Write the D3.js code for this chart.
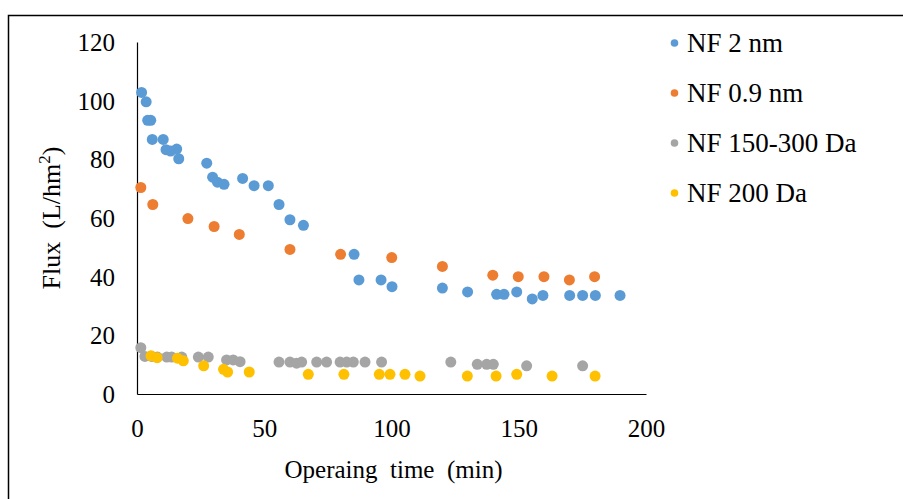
<!DOCTYPE html>
<html>
<head>
<meta charset="utf-8">
<script src="https://cdn.jsdelivr.net/npm/d3@7"></script>
<style>
  html, body { margin: 0; padding: 0; background: #fff; }
  svg text { font-family: 'Liberation Serif', 'Times New Roman', Tinos, 'DejaVu Serif', serif !important; }
</style>
</head>
<body>
<svg id="chart" width="903" height="499"></svg>
<script>
const seriesNames = ["NF 2 nm", "NF 0.9 nm", "NF 150-300 Da", "NF 200 Da"];
const seriesColors = ["#5B9BD5", "#ED7D31", "#A5A5A5", "#FFC000"];

const nf2nmTime = [1.8, 3.6, 4.2, 5.4, 6, 10.3, 11.4, 13.2, 15.6, 16.4, 27.4, 29.7, 31.6, 34.2, 41.5, 46, 51.6, 55.8, 60.1, 65.4, 85.3, 87.2, 95.9, 100.2, 120, 129.9, 141.3, 144.2, 149.2, 155.3, 159.5, 170, 175.1, 180.1, 189.8];
const nf2nmFlux = [102.8, 99.6, 93.3, 93.3, 86.8, 86.8, 83.3, 82.8, 83.5, 80.2, 78.7, 73.9, 72.2, 71.5, 73.5, 71, 71, 64.6, 59.4, 57.5, 47.6, 38.9, 38.9, 36.6, 36.1, 34.8, 34, 34, 34.8, 32.4, 33.6, 33.6, 33.6, 33.6, 33.6];

const nf09nmTime = [1.5, 6.2, 20, 30.3, 40.2, 60.1, 80, 100.1, 120, 139.8, 149.8, 159.9, 169.9, 179.8];
const nf09nmFlux = [70.4, 64.6, 59.8, 57.1, 54.4, 49.3, 47.6, 46.5, 43.5, 40.5, 40, 40, 38.9, 40];

const nf150Time = [1.5, 3.1, 5.8, 8, 11.7, 13.6, 17.6, 24.1, 28, 35.2, 37.8, 40.5, 55.8, 60.1, 62.7, 64.7, 70.6, 74.5, 79.8, 82.4, 85, 89.6, 96.1, 123.3, 133.7, 137.4, 140, 153.1, 175.1];
const nf150Flux = [15.8, 12.8, 12.8, 12.6, 12.6, 12.6, 12.6, 12.6, 12.6, 11.6, 11.6, 11, 10.9, 10.9, 10.5, 10.9, 10.9, 10.9, 10.9, 10.9, 10.9, 10.9, 10.9, 10.9, 10.1, 10.1, 10.1, 9.6, 9.6];

const nf200Time = [5.5, 7.9, 15.9, 18.2, 26.2, 34, 35.6, 44.1, 67.3, 81.3, 95.2, 99.4, 105.3, 111.2, 129.8, 141.1, 149.2, 163.1, 180];
const nf200Flux = [13, 12.4, 12.2, 11.3, 9.6, 8.4, 7.5, 7.5, 6.7, 6.7, 6.7, 6.7, 6.7, 6.1, 6.1, 6.1, 6.7, 6.1, 6.1];

const xTicks = [0, 50, 100, 150, 200];
const yTicks = [0, 20, 40, 60, 80, 100, 120];

const series = [
  { name: seriesNames[0], color: seriesColors[0], t: nf2nmTime, v: nf2nmFlux },
  { name: seriesNames[1], color: seriesColors[1], t: nf09nmTime, v: nf09nmFlux },
  { name: seriesNames[2], color: seriesColors[2], t: nf150Time, v: nf150Flux },
  { name: seriesNames[3], color: seriesColors[3], t: nf200Time, v: nf200Flux }
];

const svg = d3.select("#chart");
const W = 903, H = 499;
svg.append("rect").attr("width", W).attr("height", H).attr("fill", "#fff");

// outer border (top & left visible)
svg.append("path").attr("d", `M8.5,${H} L8.5,15.5 L${W},15.5`).attr("fill", "none").attr("stroke", "#000").attr("stroke-width", 1.5);

const x = d3.scaleLinear().domain([0, 200]).range([137, 646]);
const y = d3.scaleLinear().domain([0, 120]).range([394, 42]);

const fontSize = 25;
const legendFontSize = 27;

// axes
const xAxis = d3.axisBottom(x).tickValues(xTicks).tickSize(0).tickPadding(0).tickFormat(d3.format("d"));
const gx = svg.append("g").attr("transform", `translate(0,${y(0)})`).call(xAxis);
gx.attr("font-family", null).attr("font-size", null);
gx.select(".domain").attr("stroke", "#000").attr("stroke-width", 1.2);
gx.selectAll("text").attr("font-size", fontSize).attr("fill", "#000").attr("dy", null).attr("y", 43);

const yAxis = d3.axisLeft(y).tickValues(yTicks).tickSize(0).tickPadding(0).tickFormat(d3.format("d"));
const gy = svg.append("g").attr("transform", `translate(${x(0)},0)`).call(yAxis);
gy.attr("font-family", null).attr("font-size", null);
gy.select(".domain").attr("stroke", "#000").attr("stroke-width", 1.2);
gy.selectAll("text").attr("font-size", fontSize).attr("fill", "#000").attr("x", -22).attr("dy", "0.34em");

// axis titles
svg.append("text").attr("x", (x(0) + x(200)) / 2 + 2).attr("y", 478).attr("text-anchor", "middle")
  .attr("font-size", fontSize).attr("fill", "#000").attr("xml:space", "preserve").text("Operaing  time  (min)");

const yt = svg.append("text").attr("transform", `translate(60,${(y(0) + y(120)) / 2}) rotate(-90)`)
  .attr("text-anchor", "middle").attr("font-size", 26).attr("fill", "#000").attr("xml:space", "preserve");
yt.append("tspan").text("Flux  (L/hm");
yt.append("tspan").attr("font-size", 17).attr("dy", -10).text("2");
yt.append("tspan").attr("dy", 10).text(")");

// points
series.forEach(s => {
  svg.append("g").selectAll("circle")
    .data(s.t.map((t, i) => [t, s.v[i]]))
    .join("circle")
    .attr("cx", d => x(d[0]))
    .attr("cy", d => y(d[1]))
    .attr("r", 5.5)
    .attr("fill", s.color);
});

// legend
const lg = svg.append("g");
series.forEach((s, i) => {
  const cy = 43 + i * 50;
  lg.append("circle").attr("cx", 674.5).attr("cy", cy).attr("r", 3.8).attr("fill", s.color);
  lg.append("text").attr("x", 687).attr("y", cy).attr("dy", "0.34em").attr("font-size", legendFontSize).attr("fill", "#000").text(s.name);
});
</script>
</body>
</html>
